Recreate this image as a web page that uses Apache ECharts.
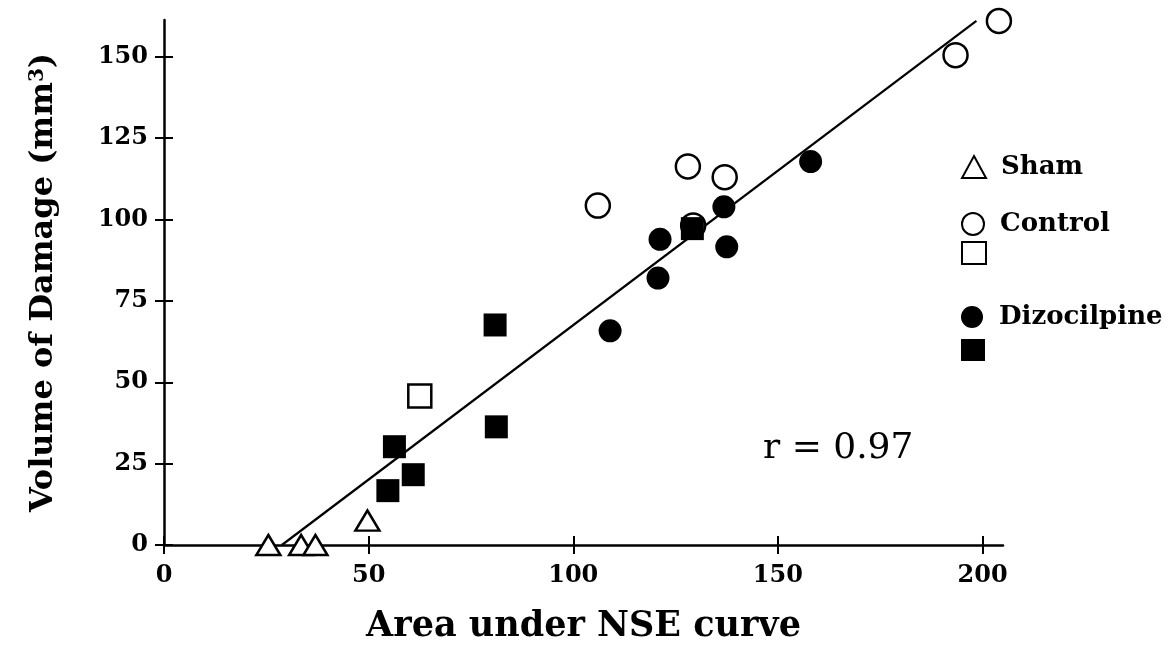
<!DOCTYPE html>
<html>
<head>
<meta charset="utf-8">
<script src="https://cdn.jsdelivr.net/npm/echarts@6/dist/echarts.min.js"></script>
<style>
  html, body { margin: 0; padding: 0; background: #fff; }
  #chart { width: 1169px; height: 662px; }
</style>
</head>
<body>
<div id="chart"></div>
<script>
// Axis tick values
const xTicks = [0, 50, 100, 150, 200];
const yTicks = [0, 25, 50, 75, 100, 125, 150];

// Sham animals (open triangles)
const shamPts = [[25.5, 0], [33.5, 0], [37.0, 0], [49.7, 7.5]];
// Control animals: open circles and an open square
const controlCircles = [[106.0, 104.3], [128.0, 116.3], [137.0, 113.0], [129.3, 98.2], [193.4, 150.5], [204.0, 161.0]];
const controlSquares = [[62.5, 45.8]];
// Dizocilpine-treated animals: filled circles and filled squares
const dizoCircles = [[109.0, 65.8], [120.7, 82.0], [121.2, 93.9], [136.8, 103.9], [137.5, 91.6], [158.0, 117.8]];
const dizoSquares = [[56.3, 30.2], [54.7, 16.7], [60.9, 21.6], [81.2, 36.3], [80.9, 67.6], [129.1, 97.2]];
// Regression line end points
const fitLine = [[28.8, 0], [198.5, 161.0]];
const corrText = 'r = 0.97';

const FONT = 'DejaVu Serif';
const INK = '#000';
const X_MAX = 205;
const Y_MAX = 161.3;

const openStyle = { color: '#fff', borderColor: INK, borderWidth: 2.5, opacity: 1 };
const filledStyle = { color: INK, borderColor: INK, borderWidth: 0, opacity: 1 };

const legendText = {
  'Sham': 'Sham',
  'Control': 'Control',
  'Dizocilpine': 'Dizocilpine'
};

function legendAt(name, centerY) {
  return {
    data: [name],
    left: 961,
    top: centerY - 11,
    orient: 'vertical',
    selectedMode: false,
    itemWidth: 24,
    itemHeight: 22,
    padding: 0,
    formatter: n => legendText[n] ? '{t|' + legendText[n] + '}' : '',
    textStyle: {
      color: INK,
      fontFamily: FONT,
      fontWeight: 'bold',
      fontSize: 26,
      lineHeight: 22,
      rich: {
        t: { color: INK, fontFamily: FONT, fontWeight: 'bold', fontSize: 26, lineHeight: 22, padding: [0, 0, 0, 10] }
      }
    }
  };
}

function scatter(name, data, symbol, size, style) {
  return {
    type: 'scatter',
    name: name,
    data: data,
    symbol: symbol,
    symbolSize: size,
    itemStyle: style,
    clip: false,
    silent: true,
    z: 3
  };
}

const tickLabelStyle = { color: INK, fontFamily: FONT, fontWeight: 'bold', fontSize: 24 };

// A second, unlabeled axis per direction shares the scale and draws the
// inner half of each tick, so the ticks cross the axis line.
const option = {
  animation: false,
  backgroundColor: '#fff',
  grid: { left: 164, right: 166, top: 20, bottom: 117 },
  xAxis: [
    {
      type: 'value', min: 0, max: X_MAX, position: 'bottom',
      axisLine: { show: true, onZero: false, lineStyle: { color: INK, width: 2.5 } },
      axisTick: { show: true, customValues: xTicks, length: 9, lineStyle: { color: INK, width: 2 } },
      axisLabel: Object.assign({ customValues: xTicks, margin: 19 }, tickLabelStyle),
      splitLine: { show: false },
      name: 'Area under NSE curve',
      nameLocation: 'middle',
      nameGap: 64,
      nameTextStyle: { color: INK, fontFamily: FONT, fontWeight: 'bold', fontSize: 35 }
    },
    {
      show: true,
      type: 'value', min: 0, max: X_MAX, position: 'bottom',
      axisLine: { show: false, onZero: false },
      axisTick: { show: true, inside: true, customValues: xTicks, length: 9, lineStyle: { color: INK, width: 2 } },
      axisLabel: { show: false },
      splitLine: { show: false }
    }
  ],
  yAxis: [
    {
      type: 'value', min: 0, max: Y_MAX, position: 'left',
      axisLine: { show: true, onZero: false, lineStyle: { color: INK, width: 2.5 } },
      axisTick: { show: true, customValues: yTicks, length: 9, lineStyle: { color: INK, width: 2 } },
      axisLabel: Object.assign({ customValues: yTicks, margin: 16 }, tickLabelStyle),
      splitLine: { show: false },
      name: 'Volume of Damage (mm{s|3})',
      nameLocation: 'middle',
      nameGap: 104,
      nameTextStyle: {
        color: INK, fontFamily: FONT, fontWeight: 'bold', fontSize: 32,
        rich: { s: { color: INK, fontFamily: FONT, fontWeight: 'bold', fontSize: 20, verticalAlign: 'top', lineHeight: 32 } }
      }
    },
    {
      show: true,
      type: 'value', min: 0, max: Y_MAX, position: 'left',
      axisLine: { show: false, onZero: false },
      axisTick: { show: true, inside: true, customValues: yTicks, length: 9, lineStyle: { color: INK, width: 2 } },
      axisLabel: { show: false },
      splitLine: { show: false }
    }
  ],
  legend: [
    legendAt('Sham', 165),
    legendAt('Control', 222),
    legendAt('Control (square)', 252),
    legendAt('Dizocilpine', 315),
    legendAt('Dizocilpine (square)', 350)
  ],
  graphic: [
    {
      type: 'text',
      left: 763,
      top: 431,
      style: { text: corrText, fill: INK, font: '500 36px "DejaVu Serif"' }
    }
  ],
  series: [
    {
      type: 'line',
      name: 'fit',
      data: fitLine,
      xAxisIndex: 1,
      yAxisIndex: 1,
      symbol: 'none',
      lineStyle: { color: INK, width: 2.2 },
      silent: true,
      clip: false,
      z: 2
    },
    scatter('Sham', shamPts, 'triangle', [24, 20], openStyle),
    scatter('Control', controlCircles, 'circle', 24, openStyle),
    scatter('Control (square)', controlSquares, 'rect', 23, openStyle),
    scatter('Dizocilpine', dizoCircles, 'circle', 23, filledStyle),
    scatter('Dizocilpine (square)', dizoSquares, 'rect', 23, filledStyle)
  ]
};

const chart = echarts.init(document.getElementById('chart'), null, { renderer: 'canvas' });
chart.setOption(option);
</script>
</body>
</html>
